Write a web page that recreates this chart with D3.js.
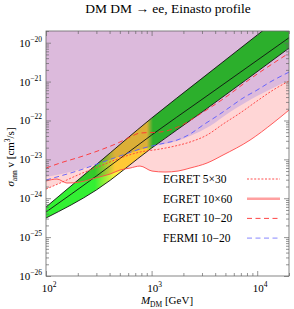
<!DOCTYPE html>
<html>
<head>
<meta charset="utf-8">
<script src="https://cdn.jsdelivr.net/npm/d3@7"></script>
<style>
  body { margin: 0; background: #fff; }
  svg { display: block; font-family: "Liberation Serif", "DejaVu Serif", serif; }
</style>
</head>
<body>
<div id="chart"></div>
<script>
// ---- data (mass in GeV, sigma v in cm^3/s) ----
const egret1020_m = [100, 136, 210, 325, 502, 624, 776, 1201, 1858, 2873, 4744, 8546, 20000];
const egret1020_s = [5.97e-24, 8.04e-24, 1.15e-23, 1.73e-23, 2.79e-23, 3.74e-23, 4.74e-23, 5.04e-23, 7.18e-23, 1.46e-22, 3.55e-22, 1.16e-21, 5.41e-21];

const fermi_m = [100, 136, 210, 325, 502, 776, 1201, 1740, 2310, 3068, 4163, 5526, 7337, 9956, 13220, 20000];
const fermi_s = [2.94e-24, 3.72e-24, 5.31e-24, 8.04e-24, 1.22e-23, 1.84e-23, 2.47e-23, 3.13e-23, 4.47e-23, 7.62e-23, 1.30e-22, 2.21e-22, 3.77e-22, 6.04e-22, 9.70e-22, 1.75e-21];

const egret530_m = [100, 136, 210, 325, 502, 776, 1201, 1666, 2310, 3346, 4744, 6873, 9956, 14110, 20000];
const egret530_s = [1.72e-24, 2.46e-24, 4.19e-24, 6.73e-24, 1.08e-23, 1.54e-23, 1.84e-23, 2.20e-23, 2.79e-23, 4.22e-23, 8.07e-23, 1.55e-22, 3.16e-22, 6.04e-22, 1.03e-21];

const egret1060_m = [100, 127, 158, 210, 291, 404, 502, 624, 776, 1009, 1339, 1778, 2310, 3346, 4744, 8546, 14110, 20000];
const egret1060_s = [2.77e-24, 3.12e-24, 2.46e-24, 2.61e-24, 3.30e-24, 4.19e-24, 5.31e-24, 5.97e-24, 6.73e-24, 5.00e-24, 4.72e-24, 5.00e-24, 5.97e-24, 8.04e-24, 1.29e-23, 3.13e-23, 8.57e-23, 1.85e-22];

// lower edge of the purple excluded region
const purple_m = [100, 169, 325, 585, 966, 1740, 2310, 3573, 5526, 9956, 20000];
const purple_s = [3.51e-24, 4.72e-24, 8.04e-24, 1.37e-23, 2.07e-23, 2.95e-23, 3.97e-23, 7.18e-23, 1.64e-22, 4.24e-22, 1.09e-21];

// fit band (edges and central line)
const band_m = [100, 300, 1000, 3000, 20000];
const bandUpper = [5.94e-25, 7.35e-24, 1.15e-22, 1.21e-21, 6.9e-20];
const bandMid = [4.42e-25, 3.72e-24, 4.22e-23, 3.48e-22, 1.34e-20];
const bandLower = [3.10e-25, 1.63e-24, 1.95e-23, 1.64e-22, 7.26e-21];
// where the band turns yellow (GeV)
const yellowStops = [290, 450, 900, 1030];

const legendLabels = ["EGRET 5\u00d730", "EGRET 10\u00d760", "EGRET 10\u221220", "FERMI 10\u221220"];
const xMajor = [1e2, 1e3, 1e4];
const yMajor = [1e-26, 1e-25, 1e-24, 1e-23, 1e-22, 1e-21, 1e-20];

// ---- layout ----
const W = 294, H = 309;
const plot = {left: 46, right: 289, top: 31, bottom: 276};

const svg = d3.select("#chart").append("svg")
    .attr("width", W)
    .attr("height", H);

const x = d3.scaleLog().domain([100, 2e4]).range([plot.left, plot.right]);
const y = d3.scaleLog().domain([1e-26, 2e-20]).range([plot.bottom, plot.top]);

const defs = svg.append("defs");
defs.append("clipPath").attr("id", "plotClip")
    .append("rect")
    .attr("x", plot.left).attr("y", plot.top)
    .attr("width", plot.right - plot.left).attr("height", plot.bottom - plot.top);

// green -> yellow -> green along the mass axis
const grad = defs.append("linearGradient")
    .attr("id", "bandGrad")
    .attr("gradientUnits", "userSpaceOnUse")
    .attr("x1", plot.left).attr("x2", plot.right)
    .attr("y1", 0).attr("y2", 0);
const green = "#33f033", yellow = "#fff040";
const span = plot.right - plot.left;
[[yellowStops[0], green], [yellowStops[1], yellow], [yellowStops[2], yellow], [yellowStops[3], green]]
    .forEach(([m, c]) => {
        grad.append("stop").attr("offset", (x(m) - plot.left) / span).attr("stop-color", c);
    });

const zip = (ms, ss) => ms.map((m, i) => [m, ss[i]]);

const lineGen = d3.line().x(d => x(d[0])).y(d => y(d[1])).curve(d3.curveMonotoneX);
const aboveGen = d3.area().x(d => x(d[0])).y0(plot.top - 5).y1(d => y(d[1])).curve(d3.curveMonotoneX);

const g = svg.append("g").attr("clip-path", "url(#plotClip)");

// pink: region excluded by any of the EGRET windows
g.append("path").attr("d", aboveGen(zip(egret1060_m, egret1060_s))).attr("fill", "#ffd6d6");
g.append("path").attr("d", aboveGen(zip(egret530_m, egret530_s))).attr("fill", "#ffd6d6");

// purple region
g.append("path").attr("d", aboveGen(zip(purple_m, purple_s))).attr("fill", "#dcbadc");

// fit band, multiplied over the background
const bandArea = d3.area()
    .x(d => x(d[0]))
    .y0(d => y(d[2]))
    .y1(d => y(d[1]))
    .curve(d3.curveMonotoneX);
const bandData = band_m.map((m, i) => [m, bandUpper[i], bandLower[i]]);
g.append("path")
    .attr("d", bandArea(bandData))
    .attr("fill", "url(#bandGrad)")
    .style("mix-blend-mode", "multiply");

[bandUpper, bandMid, bandLower].forEach(s => {
    g.append("path")
        .attr("d", lineGen(zip(band_m, s)))
        .attr("fill", "none")
        .attr("stroke", "#111")
        .attr("stroke-width", 0.9);
});

// bound curves
const curves = [
    {m: egret530_m, s: egret530_s, color: "#ff3b3b", dash: "2,1.6", w: 0.9},
    {m: egret1060_m, s: egret1060_s, color: "#ff4848", dash: null, w: 0.9},
    {m: egret1020_m, s: egret1020_s, color: "#ff3030", dash: "5,3.5", w: 0.9},
    {m: fermi_m, s: fermi_s, color: "#5a5aff", dash: "5,3.5", w: 0.9}
];
curves.forEach(c => {
    g.append("path")
        .attr("d", lineGen(zip(c.m, c.s)))
        .attr("fill", "none")
        .attr("stroke", c.color)
        .attr("stroke-width", c.w)
        .attr("stroke-dasharray", c.dash);
});

// ---- legend ----
const legendStyles = [
    {color: "#ff3b3b", dash: "2,1.6", w: 0.9},
    {color: "#ffa0a0", dash: null, w: 2.6},
    {color: "#ff3030", dash: "5,3.5", w: 0.9},
    {color: "#7a7aff", dash: "5,3.5", w: 0.9}
];
const legend = svg.append("g").attr("class", "legend");
legendLabels.forEach((lab, i) => {
    const cy = 179 + i * 19.7;
    legend.append("text")
        .attr("x", 163).attr("y", cy + 4)
        .attr("font-size", 11.5)
        .text(lab);
    legend.append("line")
        .attr("x1", 247).attr("x2", 280)
        .attr("y1", cy).attr("y2", cy)
        .attr("stroke", legendStyles[i].color)
        .attr("stroke-width", legendStyles[i].w)
        .attr("stroke-dasharray", legendStyles[i].dash);
});

// ---- axes ----
const frameColor = "#666";
const minorVals = (scale) => scale.ticks().filter(v => !xMajor.concat(yMajor).some(M => Math.abs(v / M - 1) < 1e-6));

function tickAxis(axisFn, scale, vals, size, transform) {
    const a = svg.append("g")
        .attr("transform", transform)
        .call(axisFn(scale).tickValues(vals).tickSize(size).tickFormat(""));
    a.select(".domain").remove();
    a.selectAll("line").attr("stroke", frameColor).attr("stroke-width", 0.7);
    return a;
}
// ticks point inward on all four sides
tickAxis(d3.axisBottom, x, xMajor, -5, `translate(0,${plot.bottom})`);
tickAxis(d3.axisBottom, x, minorVals(x), -3, `translate(0,${plot.bottom})`);
tickAxis(d3.axisTop, x, xMajor, -5, `translate(0,${plot.top})`);
tickAxis(d3.axisTop, x, minorVals(x), -3, `translate(0,${plot.top})`);
tickAxis(d3.axisLeft, y, yMajor, -5, `translate(${plot.left},0)`);
tickAxis(d3.axisLeft, y, minorVals(y), -3, `translate(${plot.left},0)`);
tickAxis(d3.axisRight, y, yMajor, -5, `translate(${plot.right},0)`);
tickAxis(d3.axisRight, y, minorVals(y), -3, `translate(${plot.right},0)`);

svg.append("rect")
    .attr("x", plot.left).attr("y", plot.top)
    .attr("width", plot.right - plot.left).attr("height", plot.bottom - plot.top)
    .attr("fill", "none")
    .attr("stroke", frameColor)
    .attr("stroke-width", 0.8);

// tick labels as 10^n
function powerLabel(sel, v) {
    const e = Math.round(Math.log10(v));
    sel.append("tspan").text("10");
    sel.append("tspan").attr("dy", -5).attr("font-size", 7.5).text(String(e).replace("-", "\u2212"));
}
xMajor.forEach(v => {
    const t = svg.append("text")
        .attr("x", x(v) + 3).attr("y", 292)
        .attr("text-anchor", "middle")
        .attr("font-size", 11);
    powerLabel(t, v);
});
yMajor.forEach(v => {
    const t = svg.append("text")
        .attr("x", 42).attr("y", y(v) + 4)
        .attr("text-anchor", "end")
        .attr("font-size", 11);
    powerLabel(t, v);
});

// axis titles
const xl = svg.append("text")
    .attr("x", 167).attr("y", 304)
    .attr("text-anchor", "middle")
    .attr("font-size", 11);
xl.append("tspan").attr("font-style", "italic").text("M");
xl.append("tspan").attr("dy", 2.5).attr("font-size", 7.5).text("DM");
xl.append("tspan").attr("dy", -2.5).text(" [GeV]");

const yl = svg.append("text")
    .attr("transform", `translate(14,157) rotate(-90)`)
    .attr("text-anchor", "middle")
    .attr("font-size", 11);
yl.append("tspan").attr("font-style", "italic").text("\u03c3");
yl.append("tspan").attr("dy", 2.5).attr("font-size", 7.5).text("ann");
yl.append("tspan").attr("dy", -2.5).text(" v [cm");
yl.append("tspan").attr("dy", -4).attr("font-size", 7.5).text("3");
yl.append("tspan").attr("dy", 4).text("/s]");

// title
svg.append("text")
    .attr("x", 168).attr("y", 13)
    .attr("text-anchor", "middle")
    .attr("font-size", 13.5)
    .text("DM DM \u2192 ee,  Einasto profile");
</script>
</body>
</html>
